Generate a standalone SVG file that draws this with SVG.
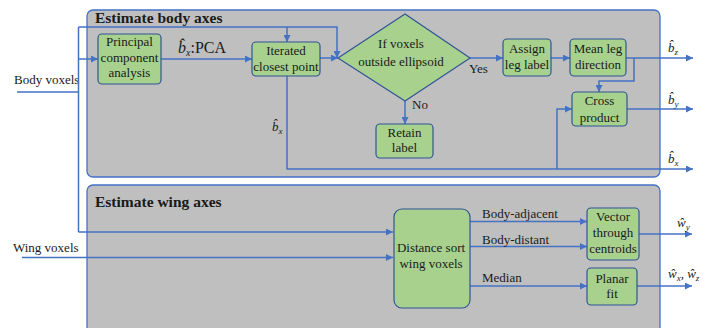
<svg xmlns="http://www.w3.org/2000/svg" width="703" height="328" viewBox="0 0 703 328">
  <style>
    text { font-family: 'Liberation Serif', 'DejaVu Serif', serif; font-size: 13px; fill: #1a1a1a; }
    .panel { fill: #bfbfbf; stroke: #4472c4; stroke-width: 1.3; }
    .box { fill: #a9d18e; stroke: #2f5597; stroke-width: 1.2; }
    .wire { fill: none; stroke: #4472c4; stroke-width: 1.5; }
    .arr { marker-end: url(#ah); }
    .c { text-anchor: middle; }
    .title { font-weight: bold; font-size: 15.5px; }
    .m { font-style: italic; }
    .sub { font-style: italic; font-size: 9px; }
  </style>
  <defs>
    <marker id="ah" viewBox="0 0 10 10" refX="10" refY="5" markerWidth="7" markerHeight="7" markerUnits="userSpaceOnUse" orient="auto">
      <path d="M0,0 L10,5 L0,10 Z" fill="#4472c4"/>
    </marker>
  </defs>

  <!-- panels -->
  <g id="panel-body">
    <rect class="panel" x="87" y="10" width="573" height="167" rx="6"/>
    <text class="title" x="95" y="23">Estimate body axes</text>
  </g>
  <g id="panel-wing">
    <rect class="panel" x="87" y="185" width="573" height="150" rx="6"/>
    <text class="title" x="95" y="207">Estimate wing axes</text>
  </g>

  <!-- inputs -->
  <g id="in-body"><text x="14" y="84">Body voxels</text></g>
  <g id="in-wing"><text x="13" y="252">Wing voxels</text></g>

  <!-- connectors -->
  <g id="connectors">
    <path class="wire" d="M17,92 H78.5 M78.5,27 V232"/>
    <path class="wire arr" d="M78.5,59 H98"/>
    <path class="wire arr" d="M78.5,27 H337 V58"/>
    <path class="wire arr" d="M287,27 V42"/>
    <path class="wire arr" d="M78.5,232 H393"/>
    <path class="wire arr" d="M22,257.5 H393"/>
    <path class="wire arr" d="M161,59 H252"/>
    <path class="wire arr" d="M320,58 H338"/>
    <path class="wire arr" d="M287,76 V169 H693"/>
    <path class="wire arr" d="M557,169 V109 H572"/>
    <path class="wire arr" d="M470,58 H503"/>
    <path class="wire arr" d="M405,101 V124"/>
    <path class="wire arr" d="M551,58 H570"/>
    <path class="wire arr" d="M626,58 H693"/>
    <path class="wire arr" d="M634,58 V81 H599 V92"/>
    <path class="wire arr" d="M627,109 H693"/>
    <path class="wire arr" d="M470,221.5 H587"/>
    <path class="wire arr" d="M470,246.5 H587"/>
    <path class="wire arr" d="M470,286 H587"/>
    <path class="wire arr" d="M639,234 H692"/>
    <path class="wire arr" d="M637,286 H692"/>
  </g>

  <!-- connector labels -->
  <g id="labels">
    <text x="178" y="53" style="font-size:16px"><tspan class="m" style="font-size:16px">b̂</tspan><tspan class="sub" dy="3" style="font-size:10px">x</tspan><tspan dy="-3" style="font-size:16px">:PCA</tspan></text>
    <text x="272" y="131"><tspan class="m">b̂</tspan><tspan class="sub" dy="3">x</tspan></text>
    <text x="469" y="73">Yes</text>
    <text x="412" y="109">No</text>
    <text x="668" y="52"><tspan class="m">b̂</tspan><tspan class="sub" dy="3">z</tspan></text>
    <text x="668" y="104"><tspan class="m">b̂</tspan><tspan class="sub" dy="3">y</tspan></text>
    <text x="668" y="163"><tspan class="m">b̂</tspan><tspan class="sub" dy="3">x</tspan></text>
    <text x="482" y="218">Body-adjacent</text>
    <text x="482" y="244">Body-distant</text>
    <text x="482" y="282">Median</text>
    <text x="677" y="227"><tspan class="m">ŵ</tspan><tspan class="sub" dy="3">y</tspan></text>
    <text x="668" y="278"><tspan class="m">ŵ</tspan><tspan class="sub" dy="3">x</tspan><tspan dy="-3">, </tspan><tspan class="m">ŵ</tspan><tspan class="sub" dy="3">z</tspan></text>
  </g>

  <!-- nodes -->
  <g id="pca">
    <rect class="box" x="98" y="34" width="63" height="50" rx="4"/>
    <text class="c" x="129.5" y="46">Principal</text>
    <text class="c" x="129.5" y="61.5">component</text>
    <text class="c" x="129.5" y="77">analysis</text>
  </g>
  <g id="icp">
    <rect class="box" x="252" y="42" width="68" height="34" rx="4"/>
    <text class="c" x="286" y="55">Iterated</text>
    <text class="c" x="286" y="71">closest point</text>
  </g>
  <g id="ellipsoid-test">
    <polygon class="box" points="338,58 405,14 470,58 405,101"/>
    <text class="c" x="401" y="48">If voxels</text>
    <text class="c" x="401" y="66">outside ellipsoid</text>
  </g>
  <g id="retain">
    <rect class="box" x="376" y="124" width="57" height="34" rx="4"/>
    <text class="c" x="404.5" y="137">Retain</text>
    <text class="c" x="404.5" y="152">label</text>
  </g>
  <g id="assign">
    <rect class="box" x="503" y="39" width="48" height="37" rx="4"/>
    <text class="c" x="527" y="53">Assign</text>
    <text class="c" x="527" y="69">leg label</text>
  </g>
  <g id="mean-leg">
    <rect class="box" x="570" y="39" width="56" height="37" rx="4"/>
    <text class="c" x="598" y="53">Mean leg</text>
    <text class="c" x="598" y="69">direction</text>
  </g>
  <g id="cross">
    <rect class="box" x="572" y="92" width="55" height="34" rx="4"/>
    <text class="c" x="599.5" y="105">Cross</text>
    <text class="c" x="599.5" y="122">product</text>
  </g>
  <g id="distance-sort">
    <rect class="box" x="394" y="209" width="76" height="99" rx="8"/>
    <text class="c" x="431" y="252">Distance sort</text>
    <text class="c" x="431" y="268">wing voxels</text>
  </g>
  <g id="centroids">
    <rect class="box" x="587" y="208" width="52" height="52" rx="4"/>
    <text class="c" x="613" y="221">Vector</text>
    <text class="c" x="613" y="237">through</text>
    <text class="c" x="613" y="253">centroids</text>
  </g>
  <g id="planar">
    <rect class="box" x="587" y="268" width="50" height="37" rx="4"/>
    <text class="c" x="612" y="283">Planar</text>
    <text class="c" x="612" y="298">fit</text>
  </g>
</svg>
